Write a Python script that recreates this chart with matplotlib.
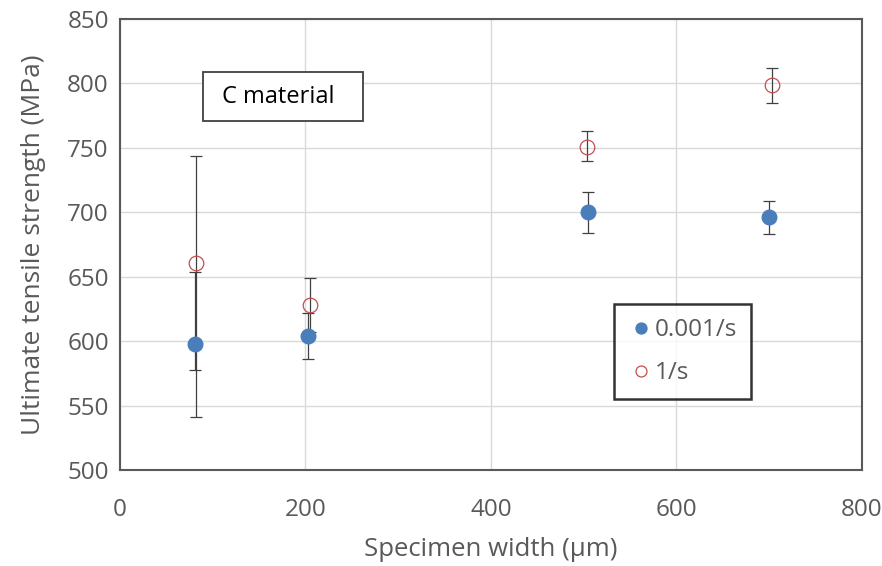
import numpy as np
import matplotlib
matplotlib.use('Agg')
import matplotlib.pyplot as plt
from matplotlib.patches import Rectangle

plt.rcParams['font.family'] = ['Open Sans', 'DejaVu Sans']

# data
width_slow = [81, 203, 505, 700]
uts_slow = [598, 604, 700, 696]
err_slow_lo = [20, 18, 16, 13]
err_slow_hi = [56, 18, 16, 13]

width_fast = [82, 205, 504, 703]
uts_fast = [661, 628, 751, 799]
err_fast_lo = [120, 21, 11, 14]
err_fast_hi = [83, 21, 12, 13]

labels = ['0.001/s', '1/s']

txt_col = '#595959'

fig = plt.figure(figsize=(8.82, 5.66), dpi=100)
ax = fig.add_axes([0.136, 0.1696, 0.841, 0.7968])

ax.errorbar(width_fast, uts_fast, yerr=[err_fast_lo, err_fast_hi], fmt='none',
            ecolor='#404040', elinewidth=0.9, capsize=4, capthick=0.9, zorder=3)
ax.errorbar(width_slow, uts_slow, yerr=[err_slow_lo, err_slow_hi], fmt='none',
            ecolor='#404040', elinewidth=0.9, capsize=4, capthick=0.9, zorder=3)
ax.plot(width_slow, uts_slow, 'o', ms=10.5, color='#4a7ebb', mec='#4a7ebb',
        label=labels[0], zorder=4)
ax.plot(width_fast, uts_fast, 'o', ms=10.5, mfc='none', mec='#c0504d', mew=0.9,
        label=labels[1], zorder=4)

ax.set_xlim(0, 800)
ax.set_ylim(500, 850)
ax.set_xticks(np.arange(0, 801, 200))
ax.set_yticks(np.arange(500, 851, 50))
ax.grid(True, color='#d9d9d9', lw=1)
ax.set_axisbelow(True)
for s in ax.spines.values():
    s.set_color('#595959')
    s.set_linewidth(1.5)
ax.tick_params(length=0, labelsize=17.5, colors=txt_col)
ax.tick_params(axis='y', pad=8)
ax.tick_params(axis='x', pad=20)

ax.set_xlabel('Specimen width (µm)', fontsize=18.5, color=txt_col, labelpad=11)
ax.set_ylabel('Ultimate tensile strength (MPa)', fontsize=19, color=txt_col, labelpad=15)

# "C material" box
ax.add_patch(Rectangle((0.112, 0.774), 0.216, 0.108, transform=ax.transAxes,
                       fc='white', ec='#404040', lw=1.3, zorder=5))
ax.text(0.213, 0.828, 'C material', transform=ax.transAxes, fontsize=17,
        color='black', va='center', ha='center', zorder=6)

leg = ax.legend(loc='upper left', bbox_to_anchor=(0.666, 0.368), borderaxespad=0,
                fontsize=17.5, frameon=True, fancybox=False, handletextpad=0.0,
                handlelength=1.1, borderpad=0.58, labelspacing=0.78, markerscale=0.75)
leg.get_frame().set_edgecolor('black')
leg.get_frame().set_linewidth(1.8)
for t in leg.get_texts():
    t.set_color(txt_col)

fig.savefig('out.png', dpi=100)
